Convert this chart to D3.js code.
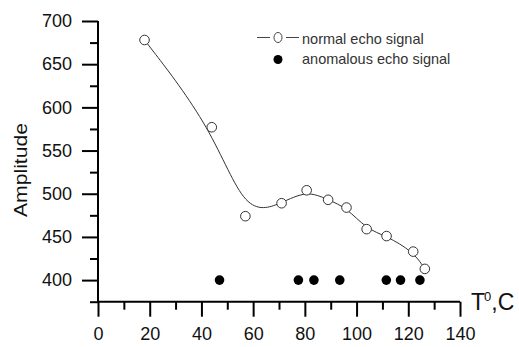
<!DOCTYPE html>
<html><head><meta charset="utf-8">
<script src="https://cdn.jsdelivr.net/npm/d3@7"></script>
<style>
html,body{margin:0;padding:0;background:#fff;}
svg{display:block;font-family:"Liberation Sans",Arial,sans-serif;}
</style></head>
<body>
<svg id="chart" width="519" height="347"></svg>
<script>
// Data
const normalT   = [18, 44, 57, 71, 80.7, 89, 96.1, 103.9, 111.6, 121.9, 126.4];
const normalAmp = [678, 577, 474, 489, 504, 493, 484, 459, 451, 433, 413];
const anomT     = [47, 77.5, 83.5, 93.5, 111.5, 117, 124.5];
const anomAmp   = [400, 400, 400, 400, 400, 400, 400];
const xMajor = [0, 20, 40, 60, 80, 100, 120, 140];
const xMinor = [10, 30, 50, 70, 90, 110, 130];
const yMajor = [400, 450, 500, 550, 600, 650, 700];
const yMinor = [375, 425, 475, 525, 575, 625, 675];
const legendLabels = ["normal echo signal", "anomalous echo signal"];

const svg = d3.select("#chart");
const x = d3.scaleLinear().domain([0, 140]).range([98, 460]);
const y = d3.scaleLinear().domain([375, 700]).range([301.7, 21]);

// Axes lines
svg.append("line").attr("x1", x(0)).attr("x2", x(0)).attr("y1", y(700)).attr("y2", y(375))
  .attr("stroke", "#000").attr("stroke-width", 2);
svg.append("line").attr("x1", x(0)).attr("x2", x(140)).attr("y1", y(375)).attr("y2", y(375))
  .attr("stroke", "#000").attr("stroke-width", 2);

// X axis
const gx = svg.append("g").attr("transform", `translate(0,${y(375)})`)
  .call(d3.axisBottom(x).tickValues(xMajor).tickSize(15).tickPadding(11).tickFormat(d3.format("d")));
gx.select(".domain").remove();
gx.selectAll(".tick line").attr("stroke", "#000").attr("stroke-width", 2);
gx.selectAll(".tick text").attr("font-size", 18).attr("fill", "#111")
  .attr("font-family", "Liberation Sans, Arial, sans-serif");
const gx2 = svg.append("g").attr("transform", `translate(0,${y(375)})`)
  .call(d3.axisBottom(x).tickValues(xMinor).tickSize(8).tickFormat(""));
gx2.select(".domain").remove();
gx2.selectAll(".tick line").attr("stroke", "#000").attr("stroke-width", 2);

// Y axis
const gy = svg.append("g").attr("transform", `translate(${x(0)},0)`)
  .call(d3.axisLeft(y).tickValues(yMajor).tickSize(16).tickPadding(10).tickFormat(d3.format("d")));
gy.select(".domain").remove();
gy.selectAll(".tick line").attr("stroke", "#000").attr("stroke-width", 2);
gy.selectAll(".tick text").attr("font-size", 18).attr("fill", "#111")
  .attr("font-family", "Liberation Sans, Arial, sans-serif");
const gy2 = svg.append("g").attr("transform", `translate(${x(0)},0)`)
  .call(d3.axisLeft(y).tickValues(yMinor).tickSize(8).tickFormat(""));
gy2.select(".domain").remove();
gy2.selectAll(".tick line").attr("stroke", "#000").attr("stroke-width", 2);

// Axis titles
svg.append("text").attr("transform", "translate(27,170) rotate(-90)")
  .attr("text-anchor", "middle").attr("font-size", 18).attr("fill", "#111")
  .attr("textLength", 94).attr("lengthAdjust", "spacingAndGlyphs")
  .text("Amplitude");
const tt = svg.append("text").attr("x", 471).attr("y", 309.5).attr("font-size", 23).attr("fill", "#111");
tt.append("tspan").text("T");
tt.append("tspan").attr("font-size", 13).attr("dy", -9).attr("dx", -1).text("0");
tt.append("tspan").attr("dy", 9).text(",C");

// Normal series: B-spline curve
const normal = normalT.map((t, i) => ({t, a: normalAmp[i]}));
const anom = anomT.map((t, i) => ({t, a: anomAmp[i]}));
svg.append("path").datum(normal)
  .attr("d", d3.line().x(d => x(d.t)).y(d => y(d.a)).curve(d3.curveBasis))
  .attr("fill", "none").attr("stroke", "#333").attr("stroke-width", 1);
svg.selectAll("circle.normal").data(normal).join("circle").attr("class", "normal")
  .attr("cx", d => x(d.t)).attr("cy", d => y(d.a)).attr("r", 4.8)
  .attr("fill", "#fff").attr("stroke", "#333").attr("stroke-width", 1);
svg.selectAll("circle.anom").data(anom).join("circle").attr("class", "anom")
  .attr("cx", d => x(d.t)).attr("cy", d => y(d.a)).attr("r", 4.8)
  .attr("fill", "#000");

// Legend
const lg = svg.append("g");
lg.append("line").attr("x1", 257).attr("x2", 270).attr("y1", 37.5).attr("y2", 37.5)
  .attr("stroke", "#444").attr("stroke-width", 1);
lg.append("line").attr("x1", 286).attr("x2", 299).attr("y1", 37.5).attr("y2", 37.5)
  .attr("stroke", "#444").attr("stroke-width", 1);
lg.append("ellipse").attr("cx", 278).attr("cy", 37.5).attr("rx", 4).attr("ry", 5)
  .attr("fill", "#fff").attr("stroke", "#444").attr("stroke-width", 1);
lg.append("circle").attr("cx", 278).attr("cy", 59.5).attr("r", 4.5).attr("fill", "#000");
lg.selectAll("text").data(legendLabels).join("text")
  .attr("x", 302).attr("y", (d, i) => 44 + i * 20)
  .attr("font-size", 14.5).attr("fill", "#333").text(d => d);
</script>
</body></html>
